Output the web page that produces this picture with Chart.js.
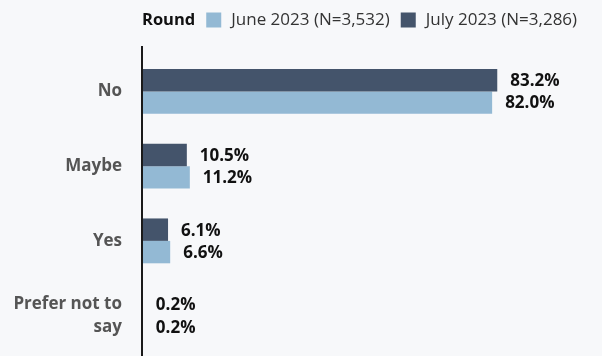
<!DOCTYPE html>
<html>
<head>
<meta charset="utf-8">
<script src="https://cdn.jsdelivr.net/npm/chart.js@4/dist/chart.umd.min.js"></script>
<style>
  html, body { margin: 0; padding: 0; background: #f7f8fa; }
  #wrap { width: 602px; height: 356px; position: relative; }
</style>
</head>
<body>
<div id="wrap"><canvas id="grafico"></canvas></div>
<script>
// respuestas por categoria, en porcentaje
const categorias = ["No", "Maybe", "Yes", ["Prefer not to", "say"]];
const julio = [83.2, 10.5, 6.1, 0.2];
const junio = [82.0, 11.2, 6.6, 0.2];
const nombreJulio = "July 2023 (N=3,286)";
const nombreJunio = "June 2023 (N=3,532)";
const tituloLeyenda = "Round";

const FUENTE = "'Open Sans', 'Noto Sans', sans-serif";
const EJE_X = 142; // borde izquierdo del area de barras

// leyenda dibujada a mano: "Round" en negrita y luego junio, julio
const leyenda = {
  id: "leyenda",
  afterDraw(chart) {
    const ctx = chart.ctx;
    ctx.save();
    ctx.textBaseline = "middle";
    ctx.textAlign = "left";
    let x = EJE_X;
    const y = 20;
    ctx.font = "bold 16.5px " + FUENTE;
    ctx.fillStyle = "#111";
    ctx.fillText(tituloLeyenda, x, y);
    x += ctx.measureText(tituloLeyenda).width + 11;
    ctx.font = "17px " + FUENTE;
    // orden de la leyenda: junio primero
    [1, 0].forEach(i => {
      const ds = chart.data.datasets[i];
      ctx.fillStyle = ds.backgroundColor;
      ctx.fillRect(x, y - 7.5, 15, 15);
      x += 25;
      ctx.fillStyle = "#333";
      ctx.fillText(ds.label, x, y);
      x += ctx.measureText(ds.label).width + 11;
    });
    ctx.restore();
  }
};

// linea vertical del eje y
const ejeY = {
  id: "ejeY",
  afterDatasetsDraw(chart) {
    const ctx = chart.ctx;
    const x = chart.chartArea.left;
    ctx.save();
    ctx.strokeStyle = "#1a1a1a";
    ctx.lineWidth = 2;
    ctx.beginPath();
    ctx.moveTo(x, 46);
    ctx.lineTo(x, 356);
    ctx.stroke();
    ctx.restore();
  }
};

// etiquetas de valor al final de cada barra
const valores = {
  id: "valores",
  afterDatasetsDraw(chart) {
    const ctx = chart.ctx;
    ctx.save();
    ctx.font = "bold 17px " + FUENTE;
    ctx.fillStyle = "#111";
    ctx.textAlign = "left";
    ctx.textBaseline = "middle";
    chart.data.datasets.forEach((ds, i) => {
      chart.getDatasetMeta(i).data.forEach((bar, j) => {
        ctx.fillText(ds.data[j].toFixed(1) + "%", bar.x + 13, bar.y + 1);
      });
    });
    ctx.restore();
  }
};

new Chart(document.getElementById("grafico"), {
  type: "bar",
  data: {
    labels: categorias,
    datasets: [
      { label: nombreJulio, data: julio, backgroundColor: "#44546b" },
      { label: nombreJunio, data: junio, backgroundColor: "#93b9d4" }
    ]
  },
  options: {
    indexAxis: "y",
    responsive: true,
    maintainAspectRatio: false,
    animation: false,
    events: [],
    categoryPercentage: 0.6,
    barPercentage: 1.0,
    layout: { padding: { top: 54, bottom: 3, left: 0, right: 33 } },
    plugins: {
      legend: { display: false },
      tooltip: { enabled: false }
    },
    scales: {
      x: {
        display: false,
        min: 0,
        max: 100
      },
      y: {
        grid: { display: false, drawTicks: false },
        border: { display: false },
        afterFit(scale) {
          scale.width = EJE_X;
          // las etiquetas no deben recortar el area vertical
          scale.paddingTop = 0;
          scale.paddingBottom = 0;
        },
        ticks: {
          padding: 20,
          color: "#555",
          font: { family: FUENTE, size: 17, weight: "bold", lineHeight: 1.35 }
        }
      }
    }
  },
  plugins: [leyenda, ejeY, valores]
});
</script>
</body>
</html>
